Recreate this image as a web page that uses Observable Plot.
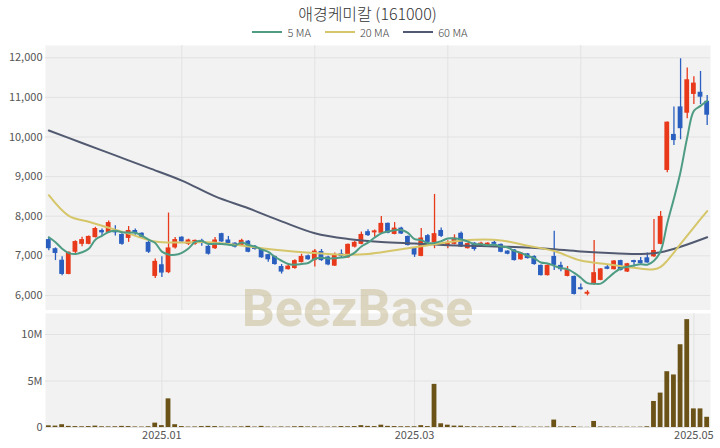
<!DOCTYPE html>
<html><head><meta charset="utf-8">
<script src="https://cdn.jsdelivr.net/npm/d3@7"></script>
<script src="https://cdn.jsdelivr.net/npm/@observablehq/plot@0.6"></script>
<style>
body{margin:0;background:#fff;font-family:"Noto Sans CJK KR","Noto Sans",sans-serif;}
#wrap{position:relative;width:720px;height:448px;overflow:hidden;}
#title{height:22px;padding-top:2px;text-align:center;font-size:16px;font-weight:300;color:#333;line-height:22px;padding-left:15px;overflow:hidden;}
#legend{height:16px;display:flex;justify-content:center;align-items:center;font-size:11px;font-weight:300;color:#444;gap:14px;padding-left:0px;}
.item{display:flex;align-items:center;gap:5px;}
.sw{width:30px;height:2px;}
#wm{position:absolute;left:0;width:715px;text-align:center;top:283px;font:bold 52px Roboto,sans-serif;line-height:52px;color:rgba(200,190,150,0.55);pointer-events:none;}
svg{display:block;}
</style></head>
<body>
<div id="wrap">
<div id="title">애경케미칼 (161000)</div>
<div id="legend"></div>
<div id="topPanel"></div>
<div id="botPanel"></div>
<div id="wm">BeezBase</div>
</div>
<script>
const opens  = [7410,7180,6890,6530,7090,7290,7290,7460,7640,7590,7640,7540,7440,7640,7570,7340,6480,6775,6575,7200,7470,7290,7290,7390,7240,7180,7560,7400,7320,7260,7370,7240,7180,7030,6985,6730,6650,6680,6830,7000,6880,7110,6970,6740,7050,6950,7220,7290,7610,7580,7570,7820,7540,7700,7490,7200,6985,7510,7330,7640,7260,7290,7570,7180,7320,7220,7220,7340,7290,7120,7150,6900,7050,6985,6760,6500,6985,6760,6480,6480,6195,6030,6280,6380,6720,6650,6880,6590,6880,6880,6950,6975,7290,9155,10065,10760,10600,11075,11130,10900];
const highs  = [7470,7200,6980,7100,7380,7470,7500,7720,7680,7880,7760,7560,7740,7680,7580,7400,6920,6980,8080,7460,7480,7420,7400,7420,7260,7460,7570,7490,7330,7420,7390,7260,7190,7040,6990,6780,6760,6900,7040,7020,7160,7160,6990,7070,7150,7300,7360,7600,7660,7650,7990,7830,7840,7720,7500,7210,7690,7540,8550,7700,7380,7530,7600,7320,7330,7340,7330,7380,7300,7130,7160,7080,7060,7000,6770,6770,7620,6840,6730,6490,6290,6120,7390,6680,6780,6880,6890,6810,6890,6960,7070,7920,8120,10380,10760,11975,11740,11520,11655,11045];
const lows   = [7130,6880,6500,6520,7060,7230,7280,7450,7490,7580,7500,7270,7340,7520,7440,7060,6430,6450,6550,7170,7330,7260,7270,7240,7020,7160,7340,7300,7200,7240,7080,7140,6940,6840,6760,6540,6640,6660,6820,6890,6720,6860,6750,6730,6950,6940,7200,7280,7490,7470,7560,7560,7530,7540,7250,6960,6980,7320,7180,7460,7180,7280,7210,7170,7120,7210,7210,7280,7080,7030,6870,6890,6920,6760,6490,6490,6630,6600,6470,6010,6140,5990,6250,6370,6650,6640,6620,6580,6720,6790,6810,6960,7280,9100,9785,9930,10460,10820,10820,10290];
const closes = [7180,7060,6530,7090,7360,7410,7490,7690,7580,7840,7580,7290,7640,7560,7460,7090,6860,6565,7200,7410,7350,7400,7390,7310,7040,7400,7350,7310,7220,7390,7090,7160,6950,6900,6780,6590,6740,6880,6985,6900,7120,6880,6770,7030,6980,7290,7340,7540,7510,7630,7820,7570,7700,7550,7260,7020,7450,7340,7560,7490,7340,7450,7220,7310,7160,7320,7320,7290,7090,7040,6880,7070,6930,6780,6500,6760,6760,6650,6650,6025,6145,6080,6575,6670,6660,6870,6630,6800,6830,6800,6820,7135,7995,10375,9910,10210,11445,11360,11005,10550];
const volumes = [180000,150000,300000,120000,100000,80000,100000,150000,80000,70000,80000,120000,100000,60000,50000,80000,470000,200000,3080000,300000,100000,50000,60000,100000,120000,100000,60000,50000,60000,70000,120000,50000,120000,50000,40000,60000,50000,80000,100000,60000,70000,50000,50000,60000,100000,80000,100000,200000,120000,100000,250000,120000,100000,80000,80000,80000,200000,100000,4640000,400000,250000,150000,150000,80000,80000,60000,70000,80000,100000,50000,120000,40000,30000,50000,40000,50000,800000,60000,60000,100000,30000,20000,650000,60000,50000,50000,40000,40000,30000,40000,80000,2800000,3700000,6000000,5650000,8900000,11600000,2000000,2000000,1100000];
const ma5 = [7470,7345,7180,7070,7044,7090,7176,7408,7506,7602,7636,7596,7586,7582,7506,7408,7322,7107,7035,7025,7077,7185,7350,7372,7298,7308,7298,7282,7264,7334,7272,7234,7162,7098,6976,6876,6792,6778,6795,6819,6925,6953,6931,6940,6956,6990,7082,7236,7332,7462,7568,7614,7646,7654,7580,7420,7396,7324,7326,7372,7436,7436,7412,7362,7296,7292,7266,7280,7236,7212,7124,7074,7002,6940,6832,6808,6746,6690,6664,6569,6446,6310,6295,6299,6426,6571,6681,6726,6758,6786,6776,6877,7116,7825,8447,9125,9987,10660,10786,10914];
const ma20Idx = [0,3,6,9,12,16,20,24,28,32,36,40,44,48,52,56,60,64,68,72,76,80,84,88,91,92,93,95,97,99];
const ma20    = [8530,8010,7860,7710,7560,7360,7335,7345,7280,7190,7120,7070,7030,7045,7140,7240,7345,7405,7390,7255,7120,6880,6790,6700,6660,6720,6880,7300,7720,8130];
const ma60Idx = [0,5,10,15,20,25,30,35,40,45,50,55,60,65,70,75,80,85,90,92,95,99];
const ma60    = [10165,9850,9535,9220,8900,8500,8200,7870,7570,7425,7350,7310,7270,7250,7225,7180,7110,7065,7050,7090,7230,7470];
const priceTicks = [6000,7000,8000,9000,10000,11000,12000];
const volTicks = [0,5000000,10000000];
const volLabels = ["0","5M","10M"];
const dateTickIdx = [17,55,97];
const dateLabels = ["2025.01","2025.03","2025.05"];
const topGridIdx = [20,40,60,80];
const seriesNames = ["5 MA","20 MA","60 MA"];

const RED = "#e8391b", BLUE = "#2a5fc0", TEAL = "#4f9c84", GOLD = "#d6c66a", SLATE = "#515a70", VOL = "#6b5318";
const GRID = "#e2e2e2", BG = "#f2f2f2";
const seriesColors = [TEAL, GOLD, SLATE];

const candles = closes.map((c, i) => ({i, o: opens[i], h: highs[i], l: lows[i], c, v: volumes[i], up: c >= opens[i]}));
const ups = candles.filter(d => d.up), downs = candles.filter(d => !d.up);
const hw = 0.36;
const font = '"Noto Sans CJK KR","Noto Sans",sans-serif';

const lg = document.getElementById("legend");
seriesNames.forEach((n, k) => {
  const it = document.createElement("div"); it.className = "item";
  const sw = document.createElement("div"); sw.className = "sw"; sw.style.background = seriesColors[k];
  const tx = document.createElement("span"); tx.textContent = n;
  it.appendChild(sw); it.appendChild(tx); lg.appendChild(it);
});

const priceChart = Plot.plot({
  width: 720, height: 270, marginTop: 5, marginBottom: 0, marginLeft: 45, marginRight: 10,
  style: {fontSize: "11px", color: "#555", fontFamily: font, background: "transparent"},
  x: {domain: [-0.5, 99.5], axis: null},
  y: {domain: [5620, 12310], ticks: priceTicks, tickFormat: d3.format(","), tickSize: 0, tickPadding: 3, label: null},
  marks: [
    Plot.frame({fill: BG, stroke: "none"}),
    Plot.gridY(priceTicks, {stroke: GRID, strokeOpacity: 1}),
    Plot.gridX(topGridIdx, {stroke: GRID, strokeOpacity: 1}),
    Plot.ruleX(ups, {x: "i", y1: "l", y2: "h", stroke: RED, strokeWidth: 1.3}),
    Plot.ruleX(downs, {x: "i", y1: "l", y2: "h", stroke: BLUE, strokeWidth: 1.3}),
    Plot.rect(ups, {x1: d => d.i - hw, x2: d => d.i + hw, y1: "o", y2: "c", fill: RED}),
    Plot.rect(downs, {x1: d => d.i - hw, x2: d => d.i + hw, y1: "o", y2: "c", fill: BLUE}),
    Plot.line(ma60, {x: (d, k) => ma60Idx[k], y: d => d, stroke: SLATE, strokeWidth: 2, curve: "catmull-rom"}),
    Plot.line(ma20, {x: (d, k) => ma20Idx[k], y: d => d, stroke: GOLD, strokeWidth: 2, curve: "catmull-rom"}),
    Plot.line(ma5, {x: (d, k) => k, y: d => d, stroke: TEAL, strokeWidth: 2, curve: "catmull-rom"})
  ]
});
document.getElementById("topPanel").appendChild(priceChart);

const volChart = Plot.plot({
  width: 720, height: 138, marginTop: 3, marginBottom: 21, marginLeft: 45, marginRight: 10,
  style: {fontSize: "11px", color: "#555", fontFamily: font, background: "transparent"},
  x: {domain: [-0.5, 99.5], ticks: dateTickIdx, tickFormat: d => dateLabels[dateTickIdx.indexOf(d)], tickSize: 0, tickPadding: 4, label: null},
  y: {domain: [0, 12260000], ticks: volTicks, tickFormat: d => volLabels[volTicks.indexOf(d)], tickSize: 0, tickPadding: 3, label: null},
  marks: [
    Plot.frame({fill: BG, stroke: "none"}),
    Plot.gridY(volTicks, {stroke: GRID, strokeOpacity: 1}),
    Plot.gridX(dateTickIdx, {stroke: GRID, strokeOpacity: 1}),
    Plot.rectY(candles, {x1: d => d.i - hw, x2: d => d.i + hw, y: "v", fill: VOL})
  ]
});
document.getElementById("botPanel").appendChild(volChart);
</script>
</body></html>
